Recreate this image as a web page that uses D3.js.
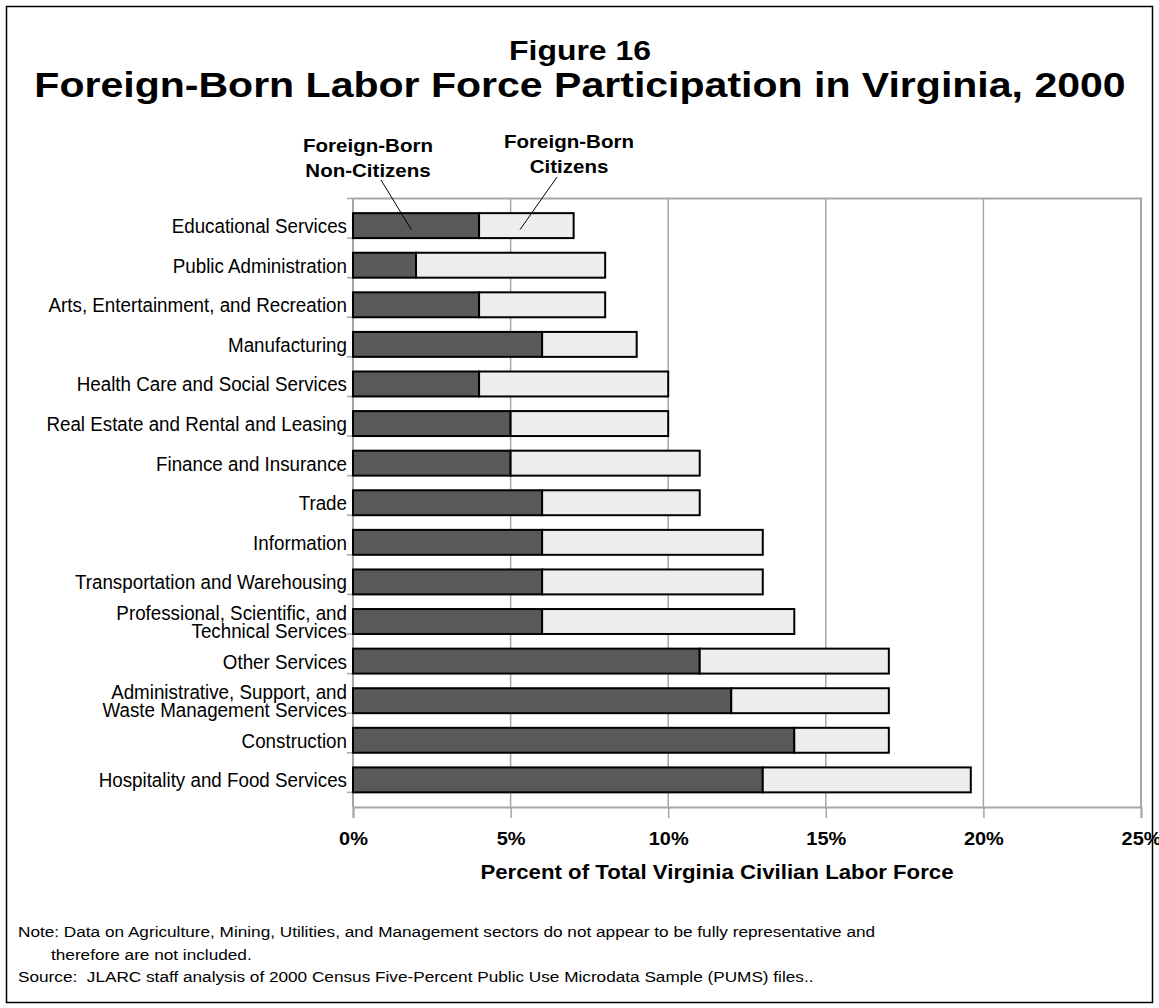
<!DOCTYPE html>
<html>
<head>
<meta charset="utf-8">
<script src="https://cdn.jsdelivr.net/npm/d3@7"></script>
<style>
  body { margin: 0; background: #fff; }
  text { font-family: "Liberation Sans", Arial, sans-serif; fill: #000; }
</style>
</head>
<body>
<div id="chart"></div>
<script>
// industries, top to bottom
const categories = [
  "Educational Services",
  "Public Administration",
  "Arts, Entertainment, and Recreation",
  "Manufacturing",
  "Health Care and Social Services",
  "Real Estate and Rental and Leasing",
  "Finance and Insurance",
  "Trade",
  "Information",
  "Transportation and Warehousing",
  "Professional, Scientific, and|Technical Services",
  "Other Services",
  "Administrative, Support, and|Waste Management Services",
  "Construction",
  "Hospitality and Food Services"
];
// percent of civilian labor force
const nonCitizens = [4, 2, 4, 6, 4, 5, 5, 6, 6, 6, 6, 11, 12, 14, 13];
const citizens    = [3, 6, 4, 3, 6, 5, 6, 5, 7, 7, 8, 6, 5, 3, 6.6];
const xTicks = [0, 5, 10, 15, 20, 25];

const width = 1159, height = 1008;
const margin = {top: 198.5, right: 18, bottom: 201, left: 353};
// the original is drawn a bit wider than tall
const SX = 1.14, SX_NARROW = 0.895;

const data = categories.map((c, i) => ({name: c, nonCitizen: nonCitizens[i], citizen: citizens[i]}));

const series = d3.stack().keys(["nonCitizen", "citizen"])(data);

const svg = d3.select("#chart").append("svg")
    .attr("width", width)
    .attr("height", height);

// outer frame
svg.append("rect")
    .attr("x", 6.5).attr("y", 6.5)
    .attr("width", width - 13).attr("height", height - 12)
    .attr("fill", "none").attr("stroke", "#000").attr("stroke-width", 1.5);

let x = d3.scaleLinear()
    .domain([0, 25])
    .range([margin.left, width - margin.right]);
let y = d3.scaleBand()
    .domain(categories)
    .range([margin.top, height - margin.bottom])
    .padding(0.37);
let color = d3.scaleOrdinal()
    .domain(["nonCitizen", "citizen"])
    .range(["#595959", "#eeeeee"]);

const y0 = margin.top, y1 = height - margin.bottom;
const step = y.step();

// stretched text helper
function label(parent, tx, ty, str, size, weight, anchor, sx) {
  return parent.append("text")
      .attr("transform", `translate(${tx},${ty}) scale(${sx},1)`)
      .attr("text-anchor", anchor)
      .attr("font-size", size)
      .attr("font-weight", weight)
      .text(str);
}

// grid lines
svg.append("g")
  .selectAll("line")
  .data(xTicks.slice(1, -1))
  .join("line")
    .attr("x1", d => x(d)).attr("x2", d => x(d))
    .attr("y1", y0).attr("y2", y1)
    .attr("stroke", "#a6a6a6").attr("stroke-width", 1.5);

// plot border top + right
svg.append("path")
    .attr("d", `M${x(0)},${y0}H${x(25)}V${y1}`)
    .attr("fill", "none").attr("stroke", "#a6a6a6").attr("stroke-width", 2);

// x axis
let xAxis = g => g
    .attr("transform", `translate(0,${y1})`)
    .call(d3.axisBottom(x).tickValues(xTicks).tickSize(11).tickFormat(d => d + "%"))
    .call(g => g.select(".domain").attr("stroke", "#a6a6a6").attr("stroke-width", 2))
    .call(g => g.selectAll(".tick line").attr("stroke", "#a6a6a6").attr("stroke-width", 1.5))
    .call(g => g.selectAll(".tick text")
        .attr("y", 38).attr("dy", 0)
        .attr("transform", `scale(${SX},1)`)
        .attr("font-size", 17.5).attr("font-weight", "bold").attr("fill", "#000"));
svg.append("g").call(xAxis);
svg.selectAll(".tick text").style("font-family", '"Liberation Sans", Arial, sans-serif');

// y axis line + ticks at band edges
svg.append("line")
    .attr("x1", x(0)).attr("x2", x(0)).attr("y1", y0).attr("y2", y1)
    .attr("stroke", "#a6a6a6").attr("stroke-width", 2);
svg.append("g")
  .selectAll("line")
  .data(d3.range(categories.length + 1))
  .join("line")
    .attr("x1", x(0) - 6).attr("x2", x(0))
    .attr("y1", i => y0 + i * step).attr("y2", i => y0 + i * step)
    .attr("stroke", "#a6a6a6").attr("stroke-width", 1.5);

// category labels (narrow face)
const catG = svg.append("g");
categories.forEach(d => {
  const parts = d.split("|");
  const cy = y(d) + y.bandwidth() / 2;
  const t = catG.append("text")
      .attr("transform", `translate(${x(0) - 6},0) scale(${SX_NARROW},1)`)
      .attr("text-anchor", "end")
      .attr("font-size", 21);
  parts.forEach((p, k) => {
    const yy = parts.length === 1 ? cy + 7.5 : cy - 2 + k * 18;
    t.append("tspan").attr("x", 0).attr("y", yy).text(p);
  });
});

// bars
svg.append("g")
  .selectAll("g")
  .data(series)
  .join("g")
    .attr("fill", d => color(d.key))
  .selectAll("rect")
  .data(d => d)
  .join("rect")
    .attr("x", d => x(d[0]))
    .attr("y", d => y(d.data.name))
    .attr("width", d => x(d[1]) - x(d[0]))
    .attr("height", y.bandwidth())
    .attr("stroke", "#000")
    .attr("stroke-width", 2);

// axis title
label(svg, 717, 879, "Percent of Total Virginia Civilian Labor Force", 19.5, "bold", "middle", SX);

// titles
label(svg, 580, 60, "Figure 16", 28, "bold", "middle", SX);
label(svg, 580, 97, "Foreign-Born Labor Force Participation in Virginia, 2000", 36, "bold", "middle", SX);

// series labels with leader lines
const firstY = y(categories[0]) + y.bandwidth() / 2;
const seriesLabels = [
  {lines: ["Foreign-Born", "Non-Citizens"], cx: 368, top: 152, from: [381, 180], to: [x(1.85), firstY + 4]},
  {lines: ["Foreign-Born", "Citizens"], cx: 569, top: 148, from: [557, 177], to: [x(5.3), firstY + 4]}
];
seriesLabels.forEach(s => {
  s.lines.forEach((l, k) => label(svg, s.cx, s.top + k * 25, l, 18, "bold", "middle", SX));
  svg.append("line")
      .attr("x1", s.from[0]).attr("y1", s.from[1])
      .attr("x2", s.to[0]).attr("y2", s.to[1])
      .attr("stroke", "#000").attr("stroke-width", 1);
});

// notes
const notes = [
  {x: 18, y: 937, text: "Note: Data on Agriculture, Mining, Utilities, and Management sectors do not appear to be fully representative and"},
  {x: 51, y: 960, text: "therefore are not included."},
  {x: 18, y: 982, text: "Source:  JLARC staff analysis of 2000 Census Five-Percent Public Use Microdata Sample (PUMS) files.."}
];
notes.forEach(n => label(svg, n.x, n.y, n.text, 15.5, "normal", "start", 1.11).style("white-space", "pre"));
</script>
</body>
</html>
